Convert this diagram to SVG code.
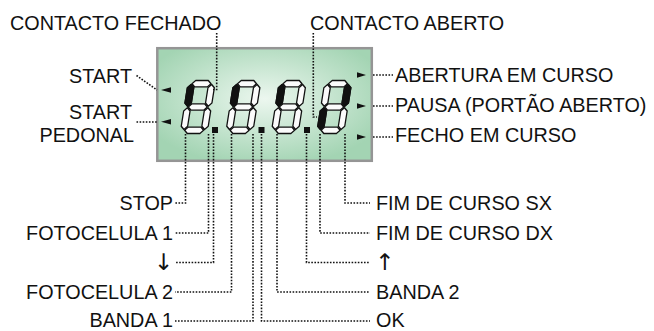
<svg xmlns="http://www.w3.org/2000/svg" xmlns:xlink="http://www.w3.org/1999/xlink" width="654" height="331" viewBox="0 0 654 331">
<style>
text{font-family:"Liberation Sans",Arial,sans-serif;font-size:19.8px;fill:#111}
text.arr{font-family:"DejaVu Sans",sans-serif;font-size:23px}
.end{text-anchor:end}
.dot{fill:none;stroke:#111;stroke-width:1.6;stroke-dasharray:1.6 1.5}
.off{fill:#fbfbfb;stroke:#111;stroke-width:1.3;stroke-linejoin:round}
.on{fill:#111;stroke:#111;stroke-width:1.3;stroke-linejoin:round}
.ah{fill:#111}
</style>
<defs>
<radialGradient id="lcd" cx="0.5" cy="0.45" r="0.6">
<stop offset="0" stop-color="#ecf7ef"/>
<stop offset="1" stop-color="#a3d4b3"/>
</radialGradient>
<polygon id="sa" points="4,3.2 7.2,0 19.8,0 23,3.2 19.8,6.4 7.2,6.4"/>
<polygon id="sg" points="4,26.5 7.2,23.3 19.8,23.3 23,26.5 19.8,29.7 7.2,29.7"/>
<polygon id="sd" points="4,49.8 7.2,46.6 19.8,46.6 23,49.8 19.8,53 7.2,53"/>
<polygon id="sf" points="3.2,4 6.4,7.2 6.4,22.5 3.2,25.7 0,22.5 0,7.2"/>
<polygon id="sb" points="23.8,4 27,7.2 27,22.5 23.8,25.7 20.6,22.5 20.6,7.2"/>
<polygon id="se" points="3.2,27.3 6.4,30.5 6.4,45.8 3.2,49 0,45.8 0,30.5"/>
<polygon id="sc" points="23.8,27.3 27,30.5 27,45.8 23.8,49 20.6,45.8 20.6,30.5"/>
<g id="eight">
<use xlink:href="#sa"/><use xlink:href="#sb"/><use xlink:href="#sc"/><use xlink:href="#sd"/><use xlink:href="#se"/><use xlink:href="#sf"/><use xlink:href="#sg"/>
</g>
</defs>

<g id="display">
<rect x="157.3" y="48.2" width="214.5" height="112.6" fill="url(#lcd)" stroke="#959595" stroke-width="2.5"/>
</g>

<g id="digit1" transform="translate(188.5,80.5) skewX(-9)">
<use xlink:href="#eight" class="off"/><use xlink:href="#sf" class="on"/>
</g>
<g id="digit2" transform="translate(234,80.5) skewX(-9)">
<use xlink:href="#eight" class="off"/><use xlink:href="#sf" class="on"/>
</g>
<g id="digit3" transform="translate(279.5,80.5) skewX(-9)">
<use xlink:href="#eight" class="off"/><use xlink:href="#sf" class="on"/>
</g>
<g id="digit4" transform="translate(325,80.5) skewX(-9)">
<use xlink:href="#eight" class="off"/><use xlink:href="#sb" class="on"/><use xlink:href="#se" class="on"/>
</g>
<g id="points">
<rect x="212" y="127" width="6" height="6" fill="#111"/>
<rect x="258.5" y="127" width="6" height="6" fill="#111"/>
<rect x="304" y="127" width="6" height="6" fill="#111"/>
</g>
<g id="arrows">
<polygon class="ah" points="161,90 171,87.3 171,92.7"/>
<polygon class="ah" points="161,121.7 171,119 171,124.4"/>
<polygon class="ah" points="366,75 357,72.3 357,77.7"/>
<polygon class="ah" points="366,106 357,103.3 357,108.7"/>
<polygon class="ah" points="366,137 357,134.3 357,139.7"/>
</g>

<g id="connectors">
<path class="dot" d="M216.7,33 V89.5 H213"/>
<path class="dot" d="M313.3,33 V117 H317"/>
<path class="dot" d="M136.5,75.5 L157,90"/>
<path class="dot" d="M136.5,122 H158"/>
<path class="dot" d="M373,75 H393"/>
<path class="dot" d="M373,106 H393"/>
<path class="dot" d="M373,137 H393"/>
<path class="dot" d="M185.5,134 V203 H175"/>
<path class="dot" d="M208.5,134 V233 H175"/>
<path class="dot" d="M213.5,134 V262.5 H175"/>
<path class="dot" d="M231.5,134 V292 H175"/>
<path class="dot" d="M253,134 V321 H175"/>
<path class="dot" d="M261.5,134 V321 H370"/>
<path class="dot" d="M277,134 V292 H370"/>
<path class="dot" d="M306.5,134 V262.5 H370"/>
<path class="dot" d="M320,134 V233 H370"/>
<path class="dot" d="M345,134 V203 H370"/>
</g>

<g id="labels">
<text id="contacto-fechado" x="10" y="30">CONTACTO FECHADO</text>
<text id="contacto-aberto" x="310" y="30">CONTACTO ABERTO</text>
<text id="start" class="end" x="132" y="83">START</text>
<text id="start-pedonal" class="end"><tspan x="132" y="119">START</tspan><tspan x="134" y="141.5">PEDONAL</tspan></text>
<text id="abertura" x="395" y="82">ABERTURA EM CURSO</text>
<text id="pausa" x="395" y="112">PAUSA (PORTÃO ABERTO)</text>
<text id="fecho" x="395" y="142">FECHO EM CURSO</text>
<text id="stop" class="end" x="173" y="210">STOP</text>
<text id="foto1" class="end" x="173" y="240">FOTOCELULA 1</text>
<text id="down" class="end arr" x="173" y="270">↓</text>
<text id="foto2" class="end" x="173" y="299">FOTOCELULA 2</text>
<text id="banda1" class="end" x="173" y="326.8">BANDA 1</text>
<text id="fim-sx" x="376" y="210">FIM DE CURSO SX</text>
<text id="fim-dx" x="376" y="240">FIM DE CURSO DX</text>
<text id="up" class="arr" x="375" y="270">↑</text>
<text id="banda2" x="376" y="299">BANDA 2</text>
<text id="ok" x="376" y="326.8">OK</text>
</g>
</svg>
